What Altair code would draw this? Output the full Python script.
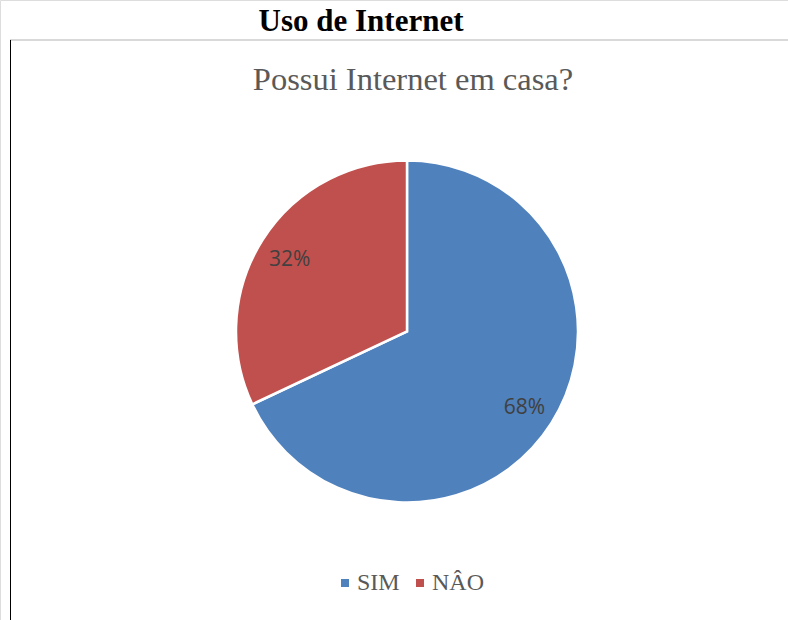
import altair as alt
import pandas as pd

categories = ["SIM", "NÂO"]
values = [68, 32]
labels = ["68%", "32%"]
colors = ["#4F81BD", "#C0504D"]

main_title = "Uso de Internet"
sub_title = "Possui Internet em casa?"

df = pd.DataFrame({"cat": categories, "value": values, "label": labels, "ord": [0, 1]})

CX, CY, R = 407, 331.5, 171

color = alt.Color(
    "cat:N",
    scale=alt.Scale(domain=categories, range=colors),
    sort=categories,
    legend=alt.Legend(
        title=None,
        orient="none",
        legendX=333,
        legendY=571,
        direction="horizontal",
        symbolType="square",
        symbolSize=64,
        symbolStrokeWidth=0,
        labelFont="Liberation Serif",
        labelFontSize=24,
        labelColor="#595959",
        labelOffset=0,
        columnPadding=8,
        padding=0,
    ),
)

base = alt.Chart(df)

pie = base.mark_arc(outerRadius=R, stroke="white", strokeWidth=2.5).encode(
    theta=alt.Theta("value:Q", stack=True),
    color=color,
    order=alt.Order("ord:Q"),
    x=alt.value(CX),
    y=alt.value(CY),
)

txt = base.mark_text(radius=139, dy=2.5, font="Open Sans", fontSize=21, color="#404040").encode(
    theta=alt.Theta("value:Q", stack=True),
    order=alt.Order("ord:Q"),
    text="label:N",
    x=alt.value(CX),
    y=alt.value(CY),
)

tdf = pd.DataFrame({"t": [main_title]})
t1 = alt.Chart(tdf).mark_text(
    font="Liberation Serif", fontSize=31, fontWeight="bold", color="#000000",
    baseline="alphabetic", align="center"
).encode(text="t:N", x=alt.value(361), y=alt.value(31))

sdf = pd.DataFrame({"t": [sub_title]})
t2 = alt.Chart(sdf).mark_text(
    font="Liberation Serif", fontSize=32.5, color="#595959",
    baseline="alphabetic", align="center"
).encode(text="t:N", x=alt.value(413), y=alt.value(90))

ldf = pd.DataFrame({"k": [0]})
hline = alt.Chart(ldf).mark_rule(color="#d9d9d9", strokeWidth=2).encode(
    x=alt.value(10), x2=alt.value(788), y=alt.value(40)
)
vline = alt.Chart(ldf).mark_rule(color="#000000", strokeWidth=1).encode(
    x=alt.value(10.5), y=alt.value(40), y2=alt.value(620)
)

chart = alt.layer(hline, vline, pie, txt, t1, t2).properties(
    width=788, height=620,
    autosize=alt.AutoSizeParams(type="none"),
    padding=0,
).configure_view(stroke=None).configure(background="white")

chart.save("out.html", embed_options={"renderer": "svg", "actions": False})
